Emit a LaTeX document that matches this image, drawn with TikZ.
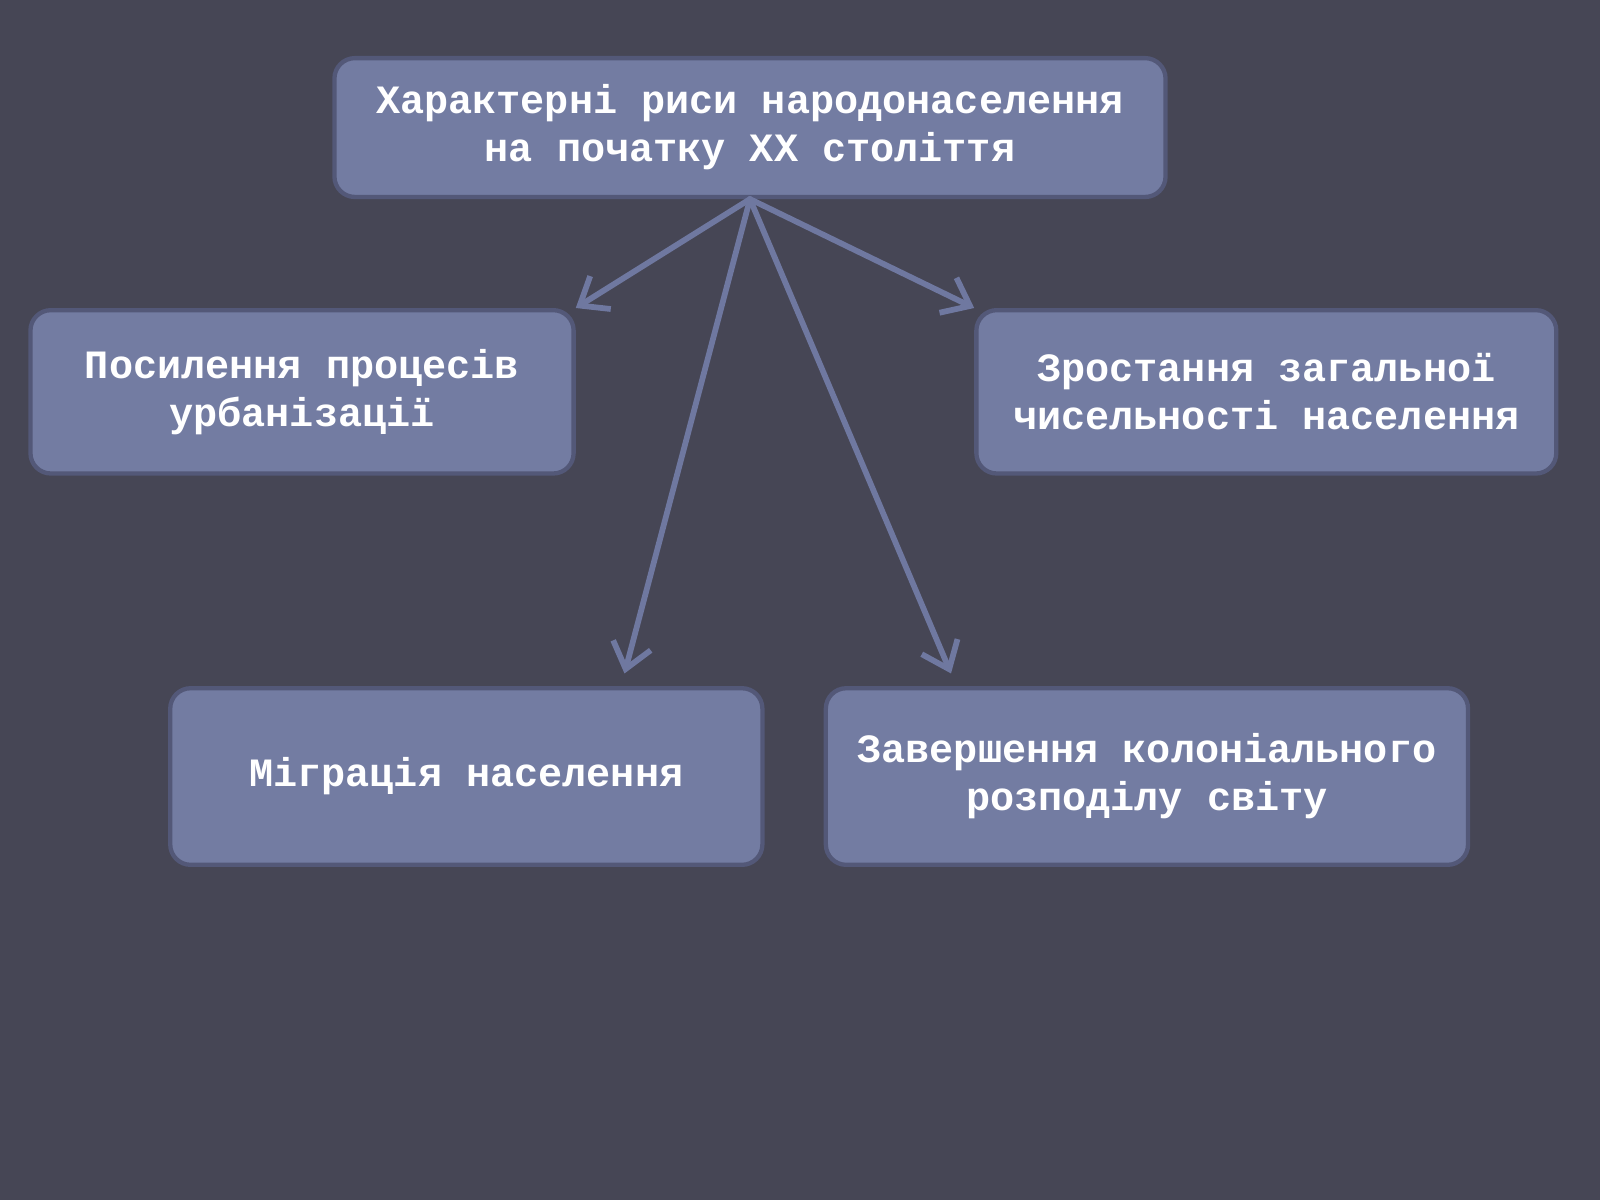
\documentclass[tikz,border=0pt]{standalone}
\usepackage{fontspec}
\setmainfont{Liberation Mono}
\usetikzlibrary{arrows.meta}
\definecolor{bgcol}{HTML}{464655}
\definecolor{boxfill}{HTML}{737CA2}
\definecolor{boxline}{HTML}{535878}
\definecolor{arrcol}{HTML}{6F78A0}
\begin{document}
\begin{tikzpicture}[x=0.01cm, y=-0.01cm,
	box/.style={draw=boxline, fill=boxfill, line width=1.2pt, rounded corners=0.2cm, text=white, align=center, font=\fontsize{11.2}{13.4}\selectfont\bfseries},
	arr/.style={draw=arrcol, line width=1.6pt, line cap=round, -{Straight Barb[length=0.24cm, width=0.38cm, line width=1.6pt]}}]
	\fill[bgcol] (0,0) rectangle (1568,1176);

	\node[box, minimum width=8.14cm, minimum height=1.36cm] at (735,125) (0) {Характерні риси народонаселення\\на початку XX століття};
	\node[box, minimum width=5.32cm, minimum height=1.6cm] at (296,384) (1) {Посилення процесів\\урбанізації};
	\node[box, minimum width=5.68cm, minimum height=1.6cm] at (1241,384) (2) {Зростання загальної\\чисельності населення};
	\node[box, minimum width=5.8cm, minimum height=1.73cm] at (457,761) (3) {Міграція населення};
	\node[box, minimum width=6.29cm, minimum height=1.73cm] at (1124,761) (4) {Завершення колоніального\\розподілу світу};

	\coordinate (t3) at (612,660);
	\coordinate (t4) at (932,660);

	\draw[arr] (0.south) -- (1.north east);
	\draw[arr] (0.south) -- (2.north west);
	\draw[arr] (0.south) -- (t3);
	\draw[arr] (0.south) -- (t4);
\end{tikzpicture}
\end{document}
